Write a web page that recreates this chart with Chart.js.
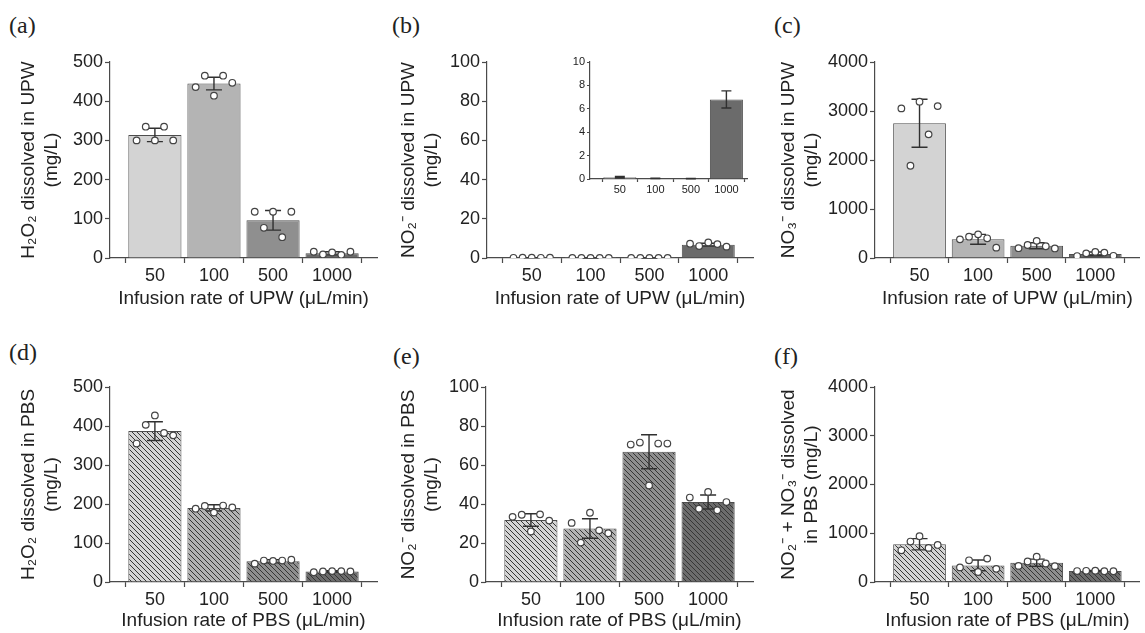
<!DOCTYPE html>
<html>
<head>
<meta charset="utf-8">
<script src="https://cdn.jsdelivr.net/npm/chart.js@4"></script>
<style>
  body { margin: 0; background: #fff; }
  #fig { position: relative; width: 1145px; height: 633px; overflow: hidden; background: #fff; }
  #fig canvas { position: absolute; }
  .tag { position: absolute; font: 24px "Liberation Serif", "DejaVu Serif", serif; line-height: 1; color: #222; }
</style>
</head>
<body>
<div id="fig">
  <div class="tag" style="left:9px;top:13px">(a)</div>
  <div class="tag" style="left:392px;top:13px">(b)</div>
  <div class="tag" style="left:774px;top:13px">(c)</div>
  <div class="tag" style="left:9px;top:340px">(d)</div>
  <div class="tag" style="left:393px;top:344px">(e)</div>
  <div class="tag" style="left:774px;top:344px">(f)</div>
  <canvas id="chartA" width="385" height="270" style="left:0;top:40px"></canvas>
  <canvas id="chartB" width="385" height="270" style="left:380px;top:40px"></canvas>
  <canvas id="chartC" width="385" height="270" style="left:760px;top:40px"></canvas>
  <canvas id="chartD" width="385" height="278" style="left:0;top:355px"></canvas>
  <canvas id="chartE" width="385" height="278" style="left:380px;top:355px"></canvas>
  <canvas id="chartF" width="385" height="278" style="left:760px;top:355px"></canvas>
  <canvas id="inset" width="195" height="150" style="left:560px;top:52px"></canvas>
</div>
<script>
const RATES = ['50', '100', '500', '1000'];

// (a) H2O2 in UPW, mg/L
const H2O2_UPW_MEAN = [314, 445, 96, 12];
const H2O2_UPW_SD = [17, 16, 25, 4];
const H2O2_UPW_PTS = [[300, 335, 300, 335, 300], [436, 465, 414, 465, 447], [118, 77, 118, 53, 118], [16, 9, 14, 8, 16]];

// (b) NO2- in UPW, mg/L (inset uses the same values)
const NO2_UPW_MEAN = [0.15, 0.05, 0.03, 6.8];
const NO2_UPW_SD = [0.06, 0.02, 0.01, 0.73];
const NO2_UPW_PTS = [[0.1, 0.2, 0.15, 0.1, 0.2], [0.05, 0.04, 0.06, 0.05, 0.05], [0.03, 0.02, 0.03, 0.04, 0.03], [7.3, 6.1, 7.9, 7.1, 5.8]];

// (c) NO3- in UPW, mg/L
const NO3_UPW_MEAN = [2750, 382, 250, 83];
const NO3_UPW_SD = [490, 100, 60, 38];
const NO3_UPW_PTS = [[3053, 1883, 3190, 2523, 3100], [381, 435, 483, 402, 211], [200, 265, 350, 240, 195], [40, 95, 125, 110, 45]];

// (d) H2O2 in PBS, mg/L
const H2O2_PBS_MEAN = [387, 190, 53, 27];
const H2O2_PBS_SD = [24, 8, 4, 2];
const H2O2_PBS_PTS = [[355, 403, 427, 382, 376], [188, 195, 178, 196, 191], [47, 55, 54, 55, 57], [25, 27, 28, 28, 27]];

// (e) NO2- in PBS, mg/L
const NO2_PBS_MEAN = [31.8, 27.4, 66.8, 41];
const NO2_PBS_SD = [3.2, 5, 8.7, 3.6];
const NO2_PBS_PTS = [[33.4, 34.5, 25.9, 34.7, 31.5], [30.3, 20.2, 35.5, 26.5, 25.0], [70.5, 71.5, 49.5, 71, 71], [43.3, 37.6, 46.2, 36.8, 41]];

// (f) NO2- + NO3- in PBS, mg/L
const NOX_PBS_MEAN = [775, 340, 395, 226];
const NOX_PBS_SD = [115, 110, 75, 10];
const NOX_PBS_PTS = [[650, 830, 940, 700, 760], [300, 445, 205, 480, 270], [330, 420, 520, 380, 325], [225, 230, 232, 222, 221]];

// horizontal spread of the 5 replicate dots inside a category
const JITTER = [-0.31, -0.155, 0, 0.155, 0.31];
// tick marks sit between categories, labels on the categories
const X_TICKS = [-0.5, 0, 0.5, 1, 1.5, 2, 2.5, 3, 3.5];

const AXIS = '#4a4a4a';
const TEXT = '#222';
const SOLID = ['#d3d3d3', '#b4b4b4', '#8f8f8f', '#6b6b6b'];
const HATCH_BG = ['#d4d4d4', '#b3b3b3', '#8e8e8e', '#6c6c6c'];

Chart.defaults.font.family = '"Liberation Sans", Arial, sans-serif';
Chart.defaults.color = TEXT;

function hatch(bg) {
    const size = 5;
    const c = document.createElement('canvas');
    c.width = size; c.height = size;
    const g = c.getContext('2d');
    g.fillStyle = bg;
    g.fillRect(0, 0, size, size);
    g.strokeStyle = '#353535';
    g.lineWidth = 1;
    g.beginPath();
    g.moveTo(0, 0); g.lineTo(size, size);
    g.moveTo(-1, size - 1); g.lineTo(1, size + 1);
    g.moveTo(size - 1, -1); g.lineTo(size + 1, 1);
    g.stroke();
    return g.createPattern(c, 'repeat');
}

// mean +/- SD whiskers, drawn right after the bars (before the dots)
const errorBars = {
    id: 'errorBars',
    afterDatasetDraw(chart, args) {
        const ds = chart.data.datasets[args.index];
        if (args.meta.type !== 'bar' || !ds.errors) return;
        const y = chart.scales.y;
        const ctx = chart.ctx;
        ctx.save();
        ctx.strokeStyle = '#303030';
        ctx.lineWidth = 1.4;
        args.meta.data.forEach((bar, i) => {
            const m = ds.data[i].y;
            const hi = y.getPixelForValue(m + ds.errors[i]);
            const lo = y.getPixelForValue(Math.max(0, m - ds.errors[i]));
            const w = ds.capHalf;
            ctx.beginPath();
            ctx.moveTo(bar.x, hi); ctx.lineTo(bar.x, lo);
            ctx.moveTo(bar.x - w, hi); ctx.lineTo(bar.x + w, hi);
            ctx.moveTo(bar.x - w, lo); ctx.lineTo(bar.x + w, lo);
            ctx.stroke();
        });
        ctx.restore();
    }
};

const isCentre = v => Math.abs(v - Math.round(v)) < 1e-6;

function panel(id, o) {
    const dots = (o.points || []).flatMap((vals, i) => vals.map((v, j) => ({ x: i + JITTER[j], y: v })));
    return new Chart(document.getElementById(id), {
        type: 'bar',
        data: {
            datasets: [
                {
                    type: 'scatter',
                    data: dots,
                    order: 1,
                    pointRadius: 3.3,
                    pointBackgroundColor: '#fff',
                    pointBorderColor: '#444',
                    pointBorderWidth: 1.2
                },
                {
                    type: 'bar',
                    data: o.mean.map((v, i) => ({ x: i, y: v })),
                    errors: o.sd,
                    capHalf: o.capHalf,
                    order: 2,
                    backgroundColor: o.colors,
                    borderColor: '#4d4d4d',
                    borderWidth: 1,
                    // ruler sees half-step ticks, so a full category is 2 "units"
                    categoryPercentage: 2,
                    barPercentage: o.barPct
                }
            ]
        },
        options: {
            responsive: false,
            animation: false,
            events: [],
            layout: { padding: { left: 0, top: o.padTop, right: o.padRight, bottom: 0 } },
            plugins: { legend: { display: false }, tooltip: { enabled: false } },
            scales: {
                x: {
                    type: 'linear',
                    offset: false,
                    min: o.xMin,
                    max: o.xMax,
                    afterBuildTicks: s => { s.ticks = X_TICKS.map(v => ({ value: v })); },
                    afterFit: s => { s.height = o.xAxisH; },
                    grid: {
                        offset: false,
                        drawOnChartArea: false,
                        tickLength: o.tickLen,
                        tickWidth: 1.2,
                        tickColor: c => (c.tick && isCentre(c.tick.value)) ? 'rgba(0,0,0,0)' : AXIS
                    },
                    border: { color: AXIS, width: 1.2 },
                    ticks: {
                        autoSkip: false,
                        maxRotation: 0,
                        padding: o.xPad,
                        font: { size: o.tickFont },
                        color: TEXT,
                        callback: v => isCentre(v) ? RATES[Math.round(v)] : ''
                    },
                    title: {
                        display: !!o.xTitle,
                        text: o.xTitle || '',
                        font: { size: 19 },
                        color: TEXT,
                        padding: { top: 0, bottom: o.xTitlePad || 0 }
                    }
                },
                y: {
                    min: 0,
                    max: o.yMax,
                    afterFit: s => { s.width = o.yAxisW; },
                    grid: { drawOnChartArea: false, tickLength: o.tickLen, tickWidth: 1.2, tickColor: AXIS },
                    border: { color: AXIS, width: 1.2 },
                    ticks: {
                        stepSize: o.step,
                        padding: 2,
                        font: { size: o.tickFont },
                        color: TEXT,
                        callback: v => Math.abs(v % o.major) < 1e-6 ? v : ''
                    },
                    title: {
                        display: !!o.yTitle,
                        text: o.yTitle || '',
                        font: { size: 19 },
                        color: TEXT,
                        padding: { top: 17.5, bottom: 0 }
                    }
                }
            }
        },
        plugins: [errorBars]
    });
}

const TOP_ROW = { padTop: 22, xAxisH: 52, xMin: -0.76, xMax: 3.76, tickLen: 5, xPad: 2, tickFont: 18, capHalf: 8, barPct: 0.9 };
const BOTTOM_ROW = { ...TOP_ROW, padTop: 32, xAxisH: 51, xTitlePad: 1 };
const UPW_X = 'Infusion rate of UPW (\u03BCL/min)';
const PBS_X = 'Infusion rate of PBS (\u03BCL/min)';

panel('chartA', { ...TOP_ROW, yAxisW: 110, padRight: 8, yMax: 500, step: 50, major: 100,
    mean: H2O2_UPW_MEAN, sd: H2O2_UPW_SD, points: H2O2_UPW_PTS, colors: SOLID,
    yTitle: ['H\u2082O\u2082 dissolved in UPW', '(mg/L)'], xTitle: UPW_X });

panel('chartB', { ...TOP_ROW, yAxisW: 107, padRight: 12, yMax: 100, step: 10, major: 20,
    mean: NO2_UPW_MEAN, sd: NO2_UPW_SD, points: NO2_UPW_PTS, colors: SOLID,
    yTitle: ['NO\u2082\u207B dissolved in UPW', '(mg/L)'], xTitle: UPW_X });

panel('chartC', { ...TOP_ROW, yAxisW: 115, padRight: 0, yMax: 4000, step: 500, major: 1000,
    mean: NO3_UPW_MEAN, sd: NO3_UPW_SD, points: NO3_UPW_PTS, colors: SOLID,
    yTitle: ['NO\u2083\u207B dissolved in UPW', '(mg/L)'], xTitle: UPW_X });

panel('chartD', { ...BOTTOM_ROW, yAxisW: 110, padRight: 8, yMax: 500, step: 50, major: 100,
    mean: H2O2_PBS_MEAN, sd: H2O2_PBS_SD, points: H2O2_PBS_PTS, colors: HATCH_BG.map(hatch),
    yTitle: ['H\u2082O\u2082 dissolved in PBS', '(mg/L)'], xTitle: PBS_X });

panel('chartE', { ...BOTTOM_ROW, yAxisW: 106, padRight: 12, yMax: 100, step: 10, major: 20,
    mean: NO2_PBS_MEAN, sd: NO2_PBS_SD, points: NO2_PBS_PTS, colors: HATCH_BG.map(hatch),
    yTitle: ['NO\u2082\u207B dissolved in PBS', '(mg/L)'], xTitle: PBS_X });

panel('chartF', { ...BOTTOM_ROW, yAxisW: 115, padRight: 2, yMax: 4000, step: 500, major: 1000,
    mean: NOX_PBS_MEAN, sd: NOX_PBS_SD, points: NOX_PBS_PTS, colors: HATCH_BG.map(hatch),
    yTitle: ['NO\u2082\u207B + NO\u2083\u207B dissolved', 'in PBS (mg/L)'], xTitle: PBS_X });

// inset of (b): same data on a 0-10 scale, bars and whiskers only
panel('inset', { padTop: 10, padRight: 8, xAxisH: 23, yAxisW: 30, xMin: -0.84, xMax: 3.58,
    tickLen: 3, xPad: 1, tickFont: 11, capHalf: 5, barPct: 0.93, yMax: 10, step: 1, major: 2,
    mean: NO2_UPW_MEAN, sd: NO2_UPW_SD, colors: SOLID });
</script>
</body>
</html>
